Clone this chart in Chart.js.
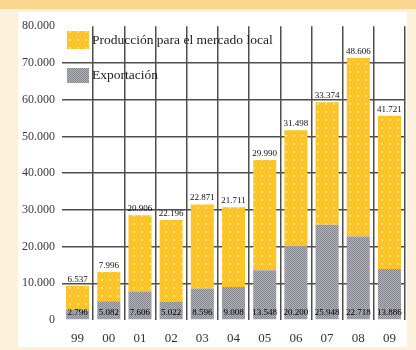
<!DOCTYPE html>
<html>
<head>
<meta charset="utf-8">
<script src="https://cdn.jsdelivr.net/npm/chart.js@4"></script>
<style>
  body { margin: 0; width: 416px; height: 350px; background: #fdf1dc; position: relative; overflow: hidden; }
  #banda { position: absolute; left: 0; top: 0; width: 416px; height: 9px; background: #fad68e; }
  #panel { position: absolute; left: 18px; top: 12px; width: 389px; height: 335px; background: #ffffff; }
</style>
</head>
<body>
<div id="banda"></div>
<div id="panel"><canvas id="grafico" width="389" height="335"></canvas></div>
<script>
// datos
const anios = ['99', '00', '01', '02', '03', '04', '05', '06', '07', '08', '09'];
const mercadoLocal = [6537, 7996, 20906, 22196, 22871, 21711, 29990, 31498, 33374, 48606, 41721];
const exportacion = [2796, 5082, 7606, 5022, 8596, 9008, 13548, 20200, 25948, 22718, 13886];
const ticksY = [0, 10000, 20000, 30000, 40000, 50000, 60000, 70000, 80000];

const fmt = v => String(v).replace(/\B(?=(\d{3})+(?!\d))/g, '.');

// tramas de relleno
function trama(base, punto, paso, tipo) {
  const c = document.createElement('canvas');
  c.width = paso; c.height = paso;
  const g = c.getContext('2d');
  g.fillStyle = base;
  g.fillRect(0, 0, paso, paso);
  g.fillStyle = punto;
  if (tipo === 'puntos') {
    g.fillRect(3, 3, 2, 2);
  } else {
    g.fillRect(0, 0, 1, 1);
    g.fillRect(1, 1, 1, 1);
  }
  return g.createPattern(c, 'repeat');
}

const ctx = document.getElementById('grafico').getContext('2d');
const amarillo = trama('#fdc42a', '#ffe27a', 8, 'puntos');
const gris = trama('#b2b2ba', '#86868e', 2, 'cuadros');

const leyenda = {
  id: 'leyenda',
  afterDatasetsDraw(chart) {
    const c = chart.ctx;
    const items = [
      { ds: chart.data.datasets[1], y: 19, h: 18 },
      { ds: chart.data.datasets[0], y: 56, h: 15 }
    ];
    c.save();
    c.font = '13.5px "Liberation Serif"';
    c.textBaseline = 'middle';
    items.forEach(it => {
      c.fillStyle = it.ds.backgroundColor;
      c.fillRect(49, it.y, 22, it.h);
      c.fillStyle = '#222';
      c.fillText(it.ds.label, 74, it.y + it.h / 2);
    });
    c.restore();
  }
};

const etiquetas = {
  id: 'etiquetas',
  afterDatasetsDraw(chart) {
    const c = chart.ctx;
    c.save();
    c.font = '9px "Liberation Serif"';
    c.textAlign = 'center';
    const metaExp = chart.getDatasetMeta(0);
    const metaLoc = chart.getDatasetMeta(1);
    metaLoc.data.forEach((bar, i) => {
      c.fillStyle = '#111';
      c.textBaseline = 'bottom';
      c.fillText(fmt(mercadoLocal[i]), bar.x, bar.y - 2);
      const b = metaExp.data[i];
      c.fillStyle = '#000';
      c.textBaseline = 'middle';
      c.fillText(fmt(exportacion[i]), b.x, b.base - 7);
    });
    c.restore();
  }
};

new Chart(ctx, {
  type: 'bar',
  data: {
    labels: anios,
    datasets: [
      {
        label: 'Exportación',
        data: exportacion,
        backgroundColor: gris,
        barPercentage: 0.74,
        categoryPercentage: 1
      },
      {
        label: 'Producción para el mercado local',
        data: mercadoLocal,
        backgroundColor: amarillo,
        barPercentage: 0.74,
        categoryPercentage: 1
      }
    ]
  },
  options: {
    responsive: false,
    animation: false,
    layout: { padding: { top: 9, right: 1, left: 0, bottom: 0 } },
    scales: {
      x: {
        stacked: true,
        grid: {
          offset: true,
          drawTicks: false,
          lineWidth: 1.5,
          color: c => (c.index === 0 || c.index === anios.length) ? 'rgba(0,0,0,0)' : '#4e4e4e'
        },
        border: { display: false },
        ticks: { padding: 11, color: '#333', font: { family: 'Liberation Serif', size: 13 } },
        afterFit: s => { s.height = 27; }
      },
      y: {
        stacked: true,
        min: 0,
        max: 80000,
        afterBuildTicks: s => { s.ticks = ticksY.map(v => ({ value: v })); },
        grid: {
          drawTicks: false,
          lineWidth: 1.5,
          color: c => (c.tick.value === 0 || c.tick.value === 80000) ? 'rgba(0,0,0,0)' : '#4e4e4e'
        },
        border: { display: false },
        ticks: {
          padding: 7,
          color: '#3a3a3a',
          font: { family: 'Liberation Serif', size: 12 },
          callback: v => fmt(v)
        },
        afterFit: s => { s.width = 44; }
      }
    },
    plugins: {
      legend: { display: false },
      tooltip: { enabled: false }
    }
  },
  plugins: [leyenda, etiquetas]
});
</script>
</body>
</html>
